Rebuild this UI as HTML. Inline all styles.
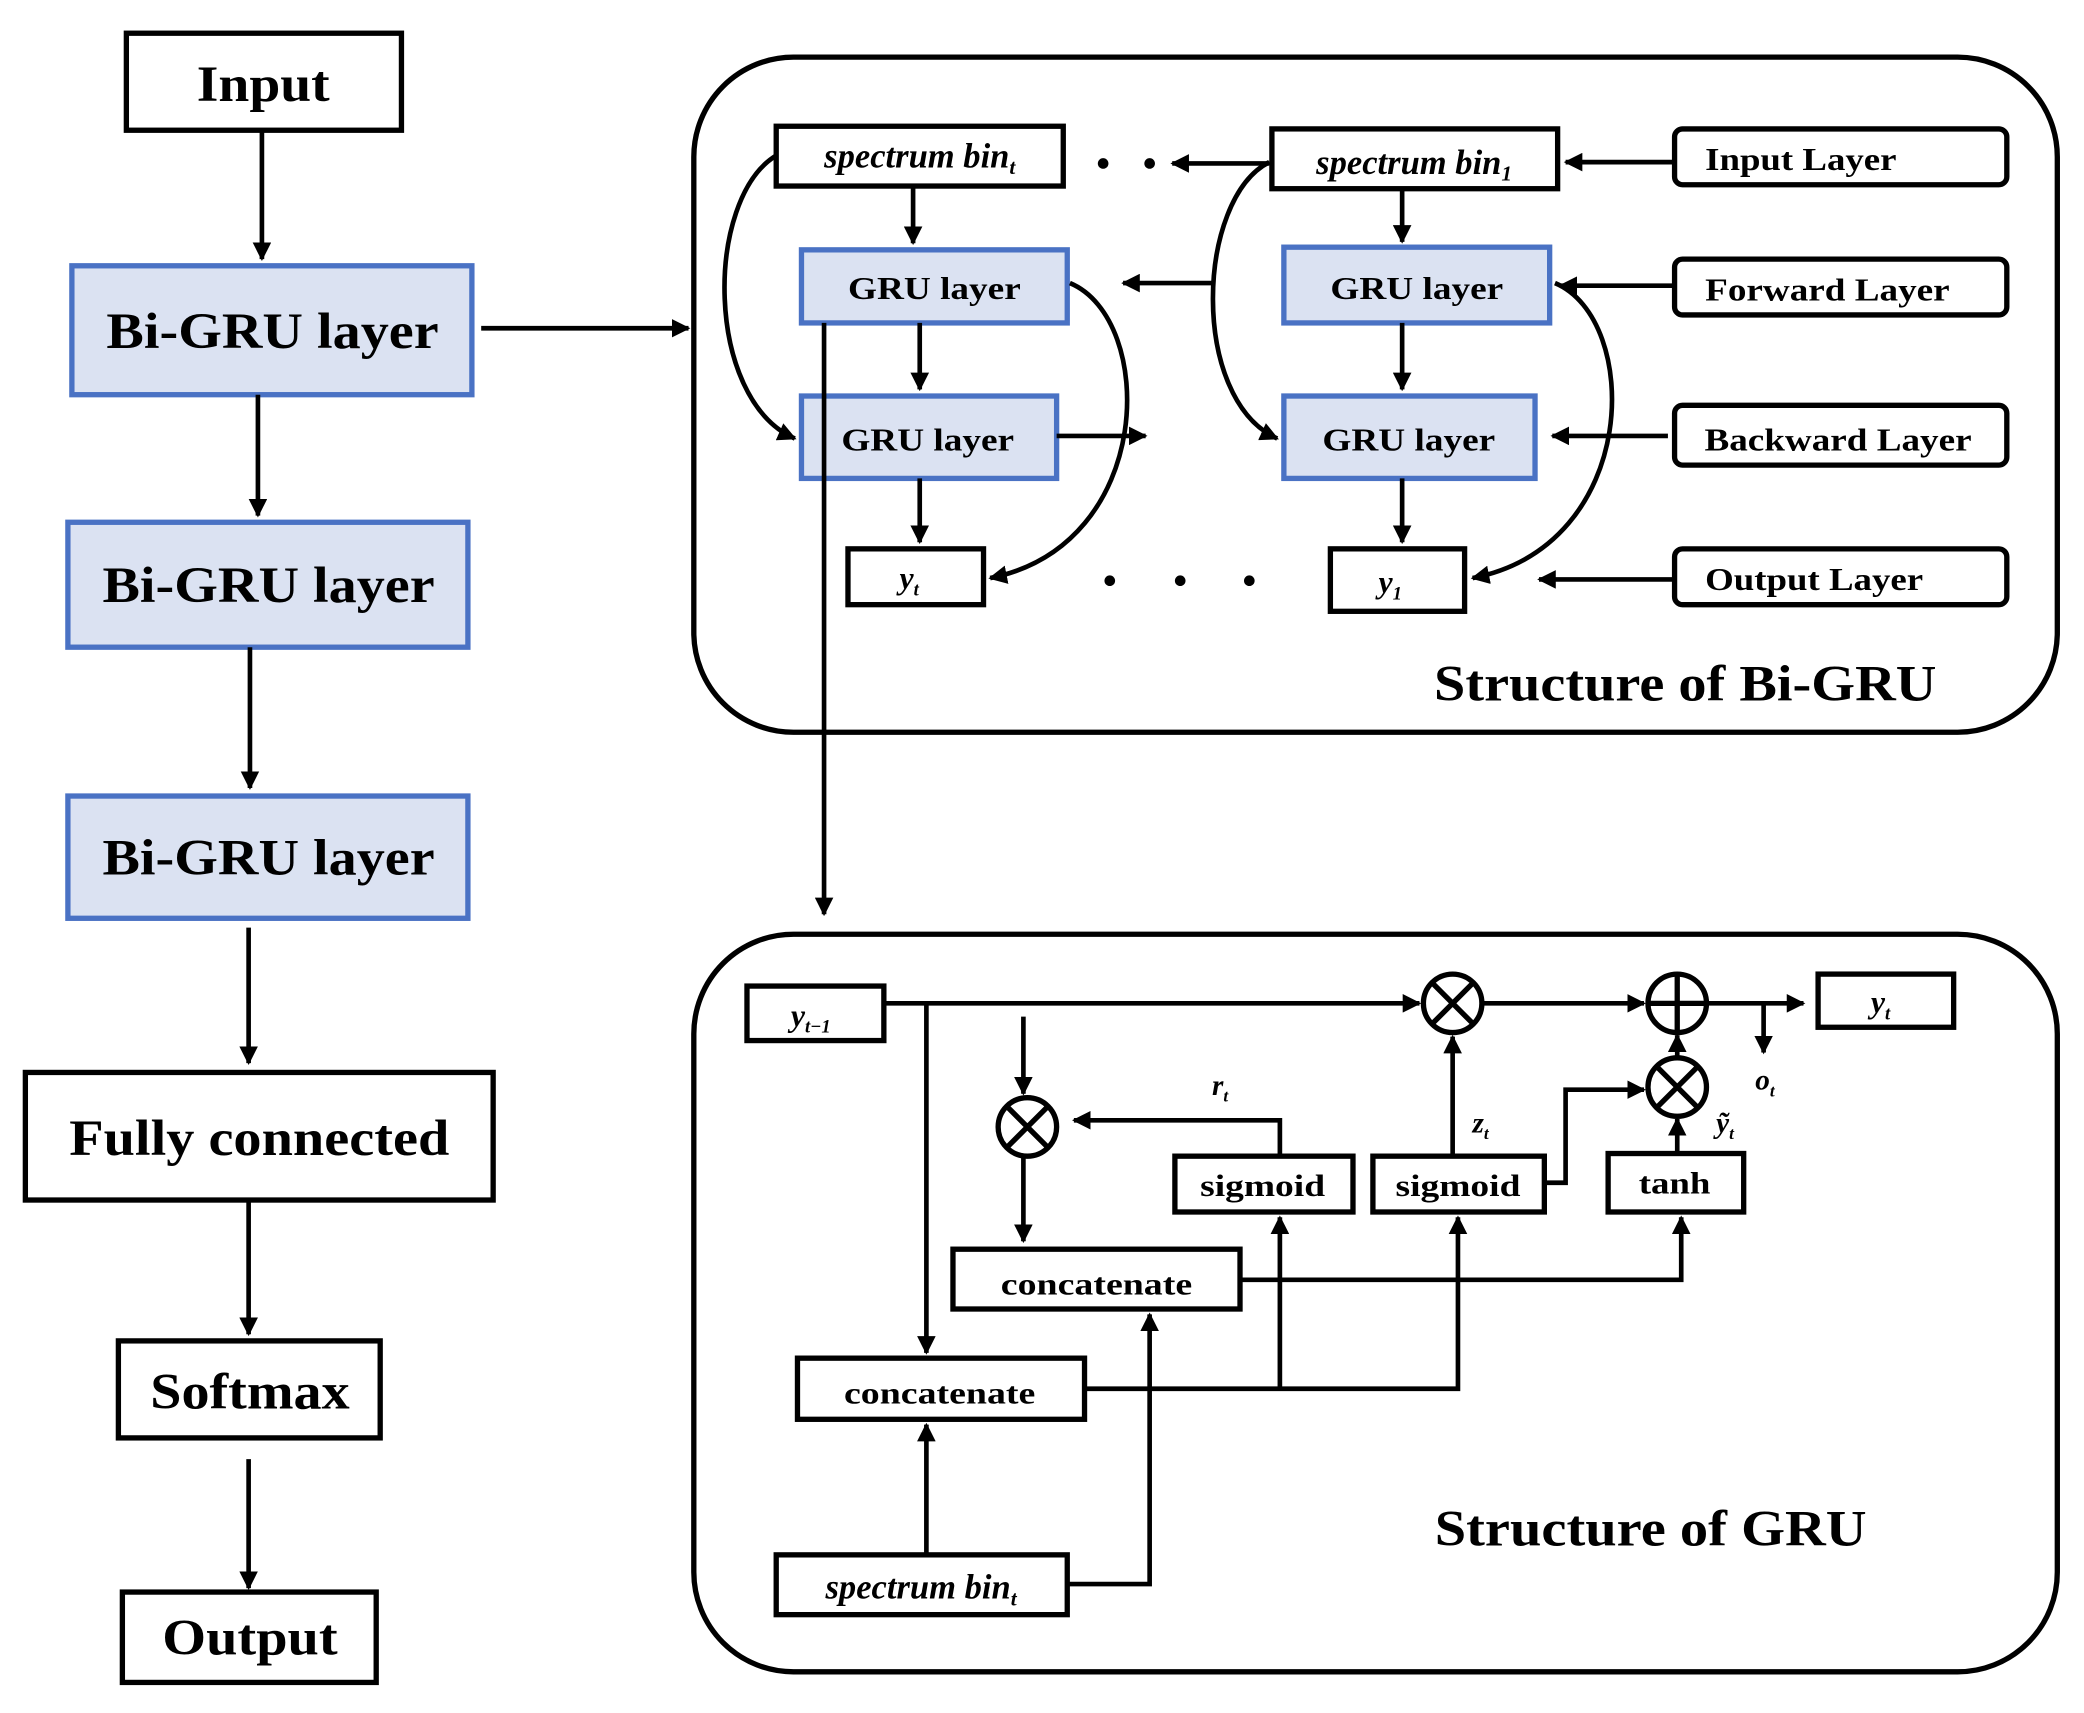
<!DOCTYPE html>
<html><head><meta charset="utf-8"><style>
html,body{margin:0;padding:0;background:#fff}
svg{display:block}
text{font-family:"Liberation Serif",serif;font-weight:bold;fill:#000}
</style></head><body>
<svg width="2084" height="1713" viewBox="0 0 1568 1289" xmlns="http://www.w3.org/2000/svg">
<defs>
<marker id="a" viewBox="0 0 10 10" refX="9" refY="5" markerWidth="4" markerHeight="4" orient="auto-start-reverse">
<path d="M0,0 L10,5 L0,10 z" fill="#000"/></marker>
</defs>
<g stroke="#000" stroke-width="4" fill="none">
<rect x="95" y="25" width="207" height="73" fill="#fff"/>
<rect x="54" y="200" width="301" height="97" fill="#dbe2f2" stroke="#4a72c4"/>
<rect x="51" y="393" width="301" height="94" fill="#dbe2f2" stroke="#4a72c4"/>
<rect x="51" y="599" width="301" height="92" fill="#dbe2f2" stroke="#4a72c4"/>
<rect x="19" y="807" width="352" height="96"/>
<rect x="89" y="1009" width="197" height="73"/>
<rect x="92" y="1198" width="191" height="68"/>
<g marker-end="url(#a)" stroke-width="3.5">
<line x1="197" y1="98" x2="197" y2="195"/>
<line x1="194" y1="297" x2="194" y2="388"/>
<line x1="188" y1="487" x2="188" y2="593"/>
<line x1="187" y1="698" x2="187" y2="800"/>
<line x1="187" y1="903" x2="187" y2="1004"/>
<line x1="187" y1="1098" x2="187" y2="1195"/>
<line x1="362" y1="247" x2="518" y2="247"/>
</g>
<rect x="522" y="43" width="1026" height="508" rx="75"/>
<rect x="584" y="95" width="216" height="45"/>
<rect x="957" y="97" width="215" height="45"/>
<rect x="1260" y="97" width="250" height="42" rx="6"/>
<rect x="1260" y="195" width="250" height="42" rx="6"/>
<rect x="1260" y="305" width="250" height="45" rx="6"/>
<rect x="1260" y="413" width="250" height="42" rx="6"/>
<rect x="603" y="188" width="200" height="55" fill="#dbe2f2" stroke="#4a72c4"/>
<rect x="966" y="186" width="200" height="57" fill="#dbe2f2" stroke="#4a72c4"/>
<rect x="603" y="298" width="192" height="62" fill="#dbe2f2" stroke="#4a72c4"/>
<rect x="966" y="298" width="189" height="62" fill="#dbe2f2" stroke="#4a72c4"/>
<rect x="638" y="413" width="102" height="42"/>
<rect x="1001" y="413" width="101" height="47"/>
<g marker-end="url(#a)" stroke-width="3.5">
<line x1="955" y1="123" x2="882" y2="123"/>
<line x1="1260" y1="122" x2="1178" y2="122"/>
<line x1="687" y1="140" x2="687" y2="183"/>
<line x1="1055" y1="142" x2="1055" y2="182"/>
<line x1="912" y1="213" x2="845" y2="213"/>
<line x1="1260" y1="215" x2="1174" y2="215"/>
<line x1="692" y1="243" x2="692" y2="293"/>
<line x1="1055" y1="243" x2="1055" y2="293"/>
<line x1="795" y1="328" x2="862" y2="328"/>
<line x1="1255" y1="328" x2="1168" y2="328"/>
<line x1="692" y1="360" x2="692" y2="408"/>
<line x1="1055" y1="360" x2="1055" y2="408"/>
<line x1="1260" y1="436" x2="1158" y2="436"/>
<line x1="620" y1="243" x2="620" y2="688"/>
<path d="M584,117 C530,150 530,300 598,330"/>
<path d="M955,122 C900,150 895,300 961,330"/>
<path d="M805,213 C870,240 870,410 745,435"/>
<path d="M1170,213 C1235,240 1235,410 1108,435"/>
</g>
<rect x="522" y="703" width="1026" height="555" rx="75"/>
<rect x="562" y="742" width="103" height="41"/>
<rect x="1368" y="733" width="102" height="40"/>
<rect x="884" y="870" width="134" height="42"/>
<rect x="1033" y="870" width="129" height="42"/>
<rect x="1210" y="868" width="102" height="44"/>
<rect x="717" y="940" width="216" height="45"/>
<rect x="600" y="1022" width="216" height="46"/>
<rect x="584" y="1170" width="219" height="45"/>
<circle cx="1093" cy="755" r="22"/>
<path d="M1078,740 L1108,770 M1108,740 L1078,770"/>
<circle cx="1262" cy="755" r="22"/>
<path d="M1240,755 L1284,755 M1262,733 L1262,777"/>
<circle cx="1262" cy="818" r="22"/>
<path d="M1247,803 L1277,833 M1277,803 L1247,833"/>
<circle cx="773" cy="848" r="22"/>
<path d="M758,833 L788,863 M788,833 L758,863"/>
<g marker-end="url(#a)" stroke-width="3.5">
<line x1="665" y1="755" x2="1068" y2="755"/>
<line x1="1115" y1="755" x2="1237" y2="755"/>
<line x1="1284" y1="755" x2="1357" y2="755"/>
<line x1="1327" y1="755" x2="1327" y2="792"/>
<line x1="1262" y1="868" x2="1262" y2="842"/>
<line x1="1262" y1="796" x2="1262" y2="779"/>
<line x1="1093" y1="870" x2="1093" y2="780"/>
<polyline points="1162,890 1178,890 1178,820 1237,820"/>
<polyline points="963,870 963,843 808,843"/>
<line x1="770" y1="765" x2="770" y2="823"/>
<line x1="770" y1="870" x2="770" y2="934"/>
<polyline points="933,963 1265,963 1265,916"/>
<line x1="697" y1="755" x2="697" y2="1018"/>
<polyline points="816,1045 1097,1045 1097,916"/>
<line x1="963" y1="1045" x2="963" y2="916"/>
<line x1="697" y1="1170" x2="697" y2="1072"/>
<polyline points="803,1192 865,1192 865,989"/>
</g>
</g>
<g fill="#000">
<circle cx="830" cy="123" r="4"/><circle cx="865" cy="123" r="4"/>
<circle cx="835" cy="437" r="4"/><circle cx="888" cy="437" r="4"/><circle cx="940" cy="437" r="4"/>
</g>
<g text-anchor="middle" lengthAdjust="spacingAndGlyphs">
<text x="198" y="76" font-size="38" textLength="100" lengthAdjust="spacingAndGlyphs">Input</text>
<text x="205" y="262" font-size="38" textLength="250" lengthAdjust="spacingAndGlyphs">Bi-GRU layer</text>
<text x="202" y="453" font-size="38" textLength="250" lengthAdjust="spacingAndGlyphs">Bi-GRU layer</text>
<text x="202" y="658" font-size="38" textLength="250" lengthAdjust="spacingAndGlyphs">Bi-GRU layer</text>
<text x="195" y="869" font-size="38" textLength="286" lengthAdjust="spacingAndGlyphs">Fully connected</text>
<text x="188" y="1060" font-size="38" textLength="150" lengthAdjust="spacingAndGlyphs">Softmax</text>
<text x="188" y="1245" font-size="38" textLength="132" lengthAdjust="spacingAndGlyphs">Output</text>
<text x="692" y="126" font-size="26" font-style="italic">spectrum bin<tspan font-size="16" dy="5">t</tspan></text>
<text x="1064" y="131" font-size="26" font-style="italic">spectrum bin<tspan font-size="16" dy="5">1</tspan></text>
<text x="1355" y="128" font-size="24" textLength="144" lengthAdjust="spacingAndGlyphs">Input Layer</text>
<text x="1375" y="226" font-size="24" textLength="184" lengthAdjust="spacingAndGlyphs">Forward Layer</text>
<text x="1383" y="339" font-size="24" textLength="201" lengthAdjust="spacingAndGlyphs">Backward Layer</text>
<text x="1365" y="444" font-size="24" textLength="164" lengthAdjust="spacingAndGlyphs">Output Layer</text>
<text x="703" y="225" font-size="24" textLength="130" lengthAdjust="spacingAndGlyphs">GRU layer</text>
<text x="1066" y="225" font-size="24" textLength="130" lengthAdjust="spacingAndGlyphs">GRU layer</text>
<text x="698" y="339" font-size="24" textLength="130" lengthAdjust="spacingAndGlyphs">GRU layer</text>
<text x="1060" y="339" font-size="24" textLength="130" lengthAdjust="spacingAndGlyphs">GRU layer</text>
<text x="684" y="443" font-size="24" font-style="italic">y<tspan font-size="14" dy="5">t</tspan></text>
<text x="1046" y="446" font-size="24" font-style="italic">y<tspan font-size="14" dy="5">1</tspan></text>
<text x="1268" y="527" font-size="38" textLength="378" lengthAdjust="spacingAndGlyphs">Structure of Bi-GRU</text>
<text x="610" y="772" font-size="24" font-style="italic">y<tspan font-size="14" dy="5">t−1</tspan></text>
<text x="1415" y="762" font-size="24" font-style="italic">y<tspan font-size="14" dy="5">t</tspan></text>
<text x="950" y="900" font-size="23" textLength="94" lengthAdjust="spacingAndGlyphs">sigmoid</text>
<text x="1097" y="900" font-size="23" textLength="94" lengthAdjust="spacingAndGlyphs">sigmoid</text>
<text x="1260" y="898" font-size="23" textLength="54" lengthAdjust="spacingAndGlyphs">tanh</text>
<text x="825" y="974" font-size="23" textLength="144" lengthAdjust="spacingAndGlyphs">concatenate</text>
<text x="707" y="1056" font-size="23" textLength="144" lengthAdjust="spacingAndGlyphs">concatenate</text>
<text x="693" y="1203" font-size="26" font-style="italic">spectrum bin<tspan font-size="16" dy="5">t</tspan></text>
<text x="1242" y="1163" font-size="38" textLength="325" lengthAdjust="spacingAndGlyphs">Structure of GRU</text>
<text x="918" y="824" font-size="22" font-style="italic">r<tspan font-size="13" dy="5">t</tspan></text>
<text x="1114" y="852" font-size="22" font-style="italic">z<tspan font-size="13" dy="5">t</tspan></text>
<text x="1328" y="820" font-size="22" font-style="italic">o<tspan font-size="13" dy="5">t</tspan></text>
<text x="1298" y="852" font-size="22" font-style="italic">ỹ<tspan font-size="13" dy="5">t</tspan></text>
</g>
</svg>
</body></html>
